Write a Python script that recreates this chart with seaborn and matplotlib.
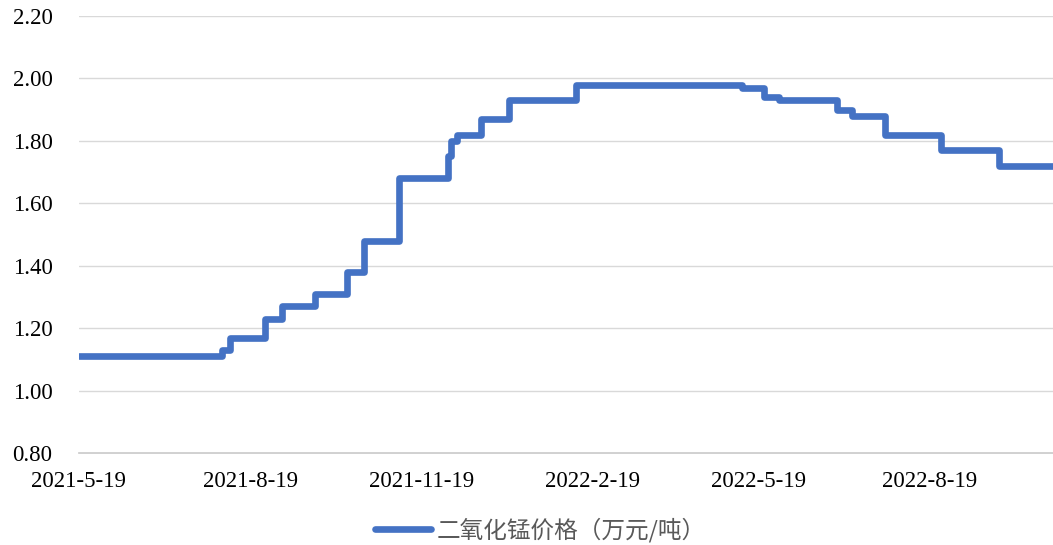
import matplotlib

matplotlib.use("Agg")
import matplotlib.pyplot as plt
import pandas as pd
import seaborn as sns

# price change points (date when the new price starts), last entry = end of series
change_dates = [
    "2021-05-19", "2021-08-04", "2021-08-08", "2021-08-27", "2021-09-05",
    "2021-09-23", "2021-10-10", "2021-10-19", "2021-11-07", "2021-12-03",
    "2021-12-05", "2021-12-08", "2021-12-21", "2022-01-05", "2022-02-10",
    "2022-05-10", "2022-05-22", "2022-05-30", "2022-06-30", "2022-07-08",
    "2022-07-26", "2022-08-25", "2022-09-25", "2022-10-24",
]
prices = [
    1.11, 1.13, 1.17, 1.23, 1.27,
    1.31, 1.38, 1.48, 1.68, 1.75,
    1.80, 1.82, 1.87, 1.93, 1.98,
    1.97, 1.94, 1.93, 1.90, 1.88,
    1.82, 1.77, 1.72, 1.72,
]
tick_dates = ["2021-05-19", "2021-08-19", "2021-11-19", "2022-02-19", "2022-05-19", "2022-08-19"]
tick_labels = ["2021-5-19", "2021-8-19", "2021-11-19", "2022-2-19", "2022-5-19", "2022-8-19"]
y_ticks = [0.80, 1.00, 1.20, 1.40, 1.60, 1.80, 2.00, 2.20]
series_name = "二氧化锰价格（万元/吨）"

LINE_COLOR = "#4472C4"
GRID_COLOR = "#d9d9d9"


def main() -> None:
    sns.set_theme(style="white")
    plt.rcParams["font.family"] = ["Liberation Serif", "Noto Sans CJK SC"]

    df = pd.DataFrame({"date": pd.to_datetime(change_dates), "price": prices})

    fig = plt.figure(figsize=(10.53, 5.45), dpi=100)
    ax = fig.add_axes([0.075, 0.1688, 0.925, 0.8018])

    sns.lineplot(
        data=df,
        x="date",
        y="price",
        drawstyle="steps-post",
        color=LINE_COLOR,
        linewidth=4.8,
        solid_joinstyle="round",
        legend=False,
        ax=ax,
    )

    ax.set_xlim(pd.Timestamp(change_dates[0]), pd.Timestamp(change_dates[-1]))
    ax.set_ylim(0.80, 2.20)
    ax.set_yticks(y_ticks)
    ax.set_yticklabels([f"{v:.2f}" for v in y_ticks])
    ax.set_xticks(pd.to_datetime(tick_dates))
    ax.set_xticklabels(tick_labels)
    ax.set_xlabel("")
    ax.set_ylabel("")

    ax.grid(axis="y", color=GRID_COLOR, linewidth=1.0)
    ax.set_axisbelow(True)
    for side in ["top", "right", "left"]:
        ax.spines[side].set_visible(False)
    ax.spines["bottom"].set_color("#c8c8c8")
    ax.spines["bottom"].set_linewidth(1.2)
    ax.spines["bottom"].set_zorder(0.5)

    ax.tick_params(axis="y", length=0, pad=19, labelsize=16.5, labelcolor="#000000")
    ax.tick_params(
        axis="x", length=5, width=1.2, color="#c8c8c8", pad=8,
        labelsize=16.5, labelcolor="#000000", direction="out",
    )

    handle = plt.Line2D([], [], color=LINE_COLOR, linewidth=4.8, solid_capstyle="round")
    fig.legend(
        [handle],
        [series_name],
        loc="center",
        bbox_to_anchor=(540 / 1053, 1 - 530 / 545),
        frameon=False,
        handlelength=2.4,
        handletextpad=0.2,
        prop={"family": ["Noto Sans CJK SC"], "size": 17},
        labelcolor="#595959",
    )

    fig.savefig("out.png", dpi=100)
    plt.close(fig)


if __name__ == "__main__":
    main()
